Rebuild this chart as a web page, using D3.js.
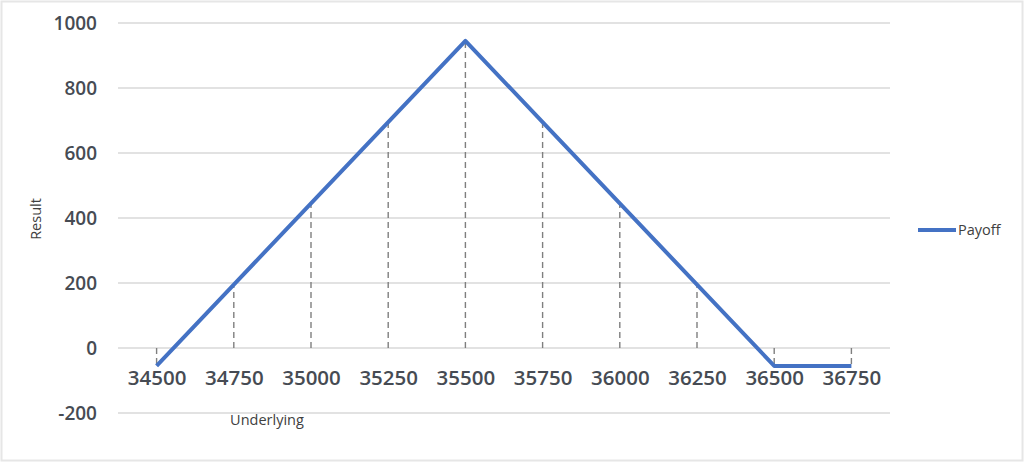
<!DOCTYPE html>
<html><head><meta charset="utf-8">
<script src="https://cdn.jsdelivr.net/npm/d3@7"></script>
<style>
html,body{margin:0;padding:0;background:#fff;}
svg{display:block;font-family:"Open Sans",sans-serif;}
</style></head>
<body><svg id="c" width="1024" height="462"></svg>
<script>
const categories = [34500,34750,35000,35250,35500,35750,36000,36250,36500,36750];
const payoff = [-55,195,445,695,945,695,445,195,-55,-55];
const yTicks = [-200,0,200,400,600,800,1000];
const seriesName = "Payoff";

const svg = d3.select("#c");
svg.append("rect").attr("x",1.5).attr("y",1.5).attr("width",1021).attr("height",459)
  .attr("fill","#fff").attr("stroke","#e6e6e6").attr("stroke-width",2);

const x = d3.scalePoint().domain(categories).range([118,890]).padding(0.5);
const y = d3.scaleLinear().domain([-200,1000]).range([413,23]);

// gridlines
svg.append("g").selectAll("line").data(yTicks).join("line")
  .attr("x1",118).attr("x2",890).attr("y1",d=>y(d)).attr("y2",d=>y(d))
  .attr("stroke","#d9d9d9").attr("stroke-width",1.3);

// y labels
const yAxis = d3.axisLeft(y).tickValues(yTicks).tickSize(0).tickPadding(0).tickFormat(d=>String(d));
const ya = svg.append("g").attr("transform","translate(97,0)").call(yAxis);
ya.select(".domain").remove();
ya.selectAll("text").attr("font-size",19).attr("font-weight",600).attr("fill","#464b53")
  .attr("font-family","'Open Sans',sans-serif");

// drop lines
svg.append("g").selectAll("line").data(categories).join("line")
  .attr("x1",d=>x(d)).attr("x2",d=>x(d))
  .attr("y1",y(0)).attr("y2",(d,i)=>y(payoff[i]))
  .attr("stroke","#7f7f7f").attr("stroke-width",1.4).attr("stroke-dasharray","6,4");

// x labels
const xAxis = d3.axisBottom(x).tickSize(0).tickPadding(0).tickFormat(d=>String(d));
const xa = svg.append("g").attr("transform",`translate(0,${y(0)+30})`).call(xAxis);
xa.select(".domain").remove();
xa.selectAll("text").attr("font-size",20.5).attr("font-weight",600).attr("fill","#464b53")
  .attr("font-family","'Open Sans',sans-serif").attr("dy","0.36em").attr("y",0);

// line
const line = d3.line().x((d,i)=>x(categories[i])).y(d=>y(d));
svg.append("path").datum(payoff).attr("d",line).attr("fill","none")
  .attr("stroke","#4472c4").attr("stroke-width",4).attr("stroke-linejoin","round");

// axis titles
svg.append("text").attr("x",267).attr("y",425).attr("text-anchor","middle")
  .attr("font-size",14.5).attr("fill","#404040").text("Underlying");
svg.append("text").attr("transform","translate(41,219) rotate(-90)").attr("text-anchor","middle")
  .attr("font-size",14.5).attr("fill","#404040").text("Result");

// legend
svg.append("line").attr("x1",918).attr("x2",956).attr("y1",230).attr("y2",230)
  .attr("stroke","#4472c4").attr("stroke-width",4);
svg.append("text").attr("x",958).attr("y",235).attr("font-size",14.5).attr("fill","#404040").text(seriesName);
</script></body></html>
